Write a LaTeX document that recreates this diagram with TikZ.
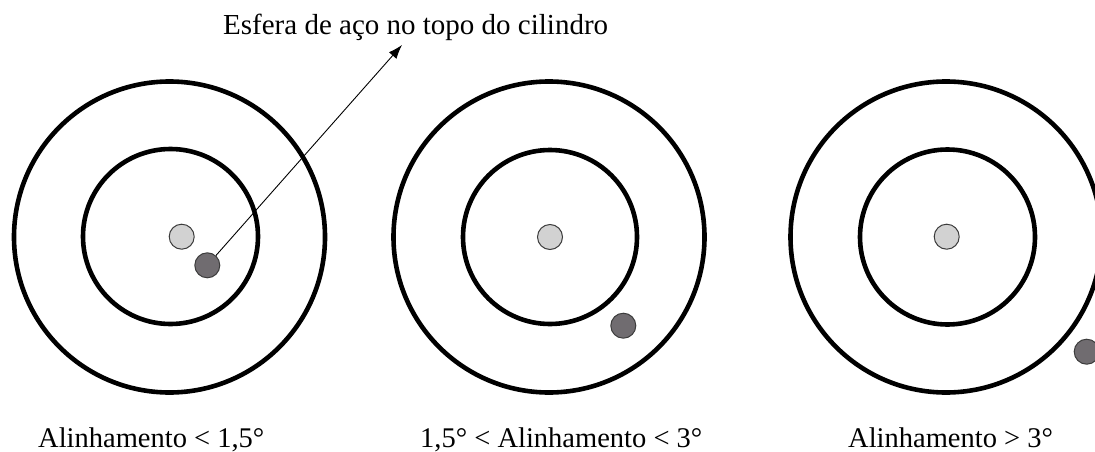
\documentclass[tikz,border=0pt]{standalone}
\usepackage{fontspec}
\setmainfont{Liberation Serif}
\usetikzlibrary{arrows.meta}
\definecolor{lightball}{RGB}{210,210,210}
\definecolor{darkball}{RGB}{112,108,112}
\definecolor{ballline}{RGB}{60,60,60}
\begin{document}
\begin{tikzpicture}[x=1pt,y=-1pt,
  ring/.style={line width=4.6pt,draw=black},
  ball/.style={circle,draw=ballline,line width=1pt,minimum size=25pt,inner sep=0pt},
  lball/.style={ball,fill=lightball},
  dball/.style={ball,fill=darkball},
  lbl/.style={font=\fontsize{28.5}{34}\selectfont,inner sep=0pt,anchor=base west},
  pointer/.style={line width=0.9pt,-{Latex[length=14pt,width=10pt]}}]
\useasboundingbox (0,0) rectangle (1095,452);
% target 1
\draw[ring] (169.5,237) circle (155.5pt);
\draw[ring] (170.5,236.5) circle (87.5pt);
\node[lball] (l1) at (181.7,236.7) {};
\node[dball] (d1) at (207.3,265.3) {};
% target 2
\draw[ring] (549,237) circle (155.5pt);
\draw[ring] (550,237) circle (87pt);
\node[lball] (l2) at (550,237) {};
\node[dball] (d2) at (623.3,325.7) {};
% target 3
\draw[ring] (946,237) circle (155.5pt);
\draw[ring] (947.5,237) circle (87.5pt);
\node[lball] (l3) at (946.7,236.7) {};
\node[dball] (d3) at (1086.7,351.7) {};
% labels
\node[lbl,font=\fontsize{29}{34}\selectfont] (top) at (223,35) {Esfera de aço no topo do cilindro};
\coordinate (tip) at (402,45);
\draw[pointer] (d1) -- (tip);
\node[lbl] (a1) at (38,447) {Alinhamento < 1,5°};
\node[lbl] (a2) at (420,447) {1,5° < Alinhamento < 3°};
\node[lbl] (a3) at (848,447) {Alinhamento > 3°};
\end{tikzpicture}
\end{document}
